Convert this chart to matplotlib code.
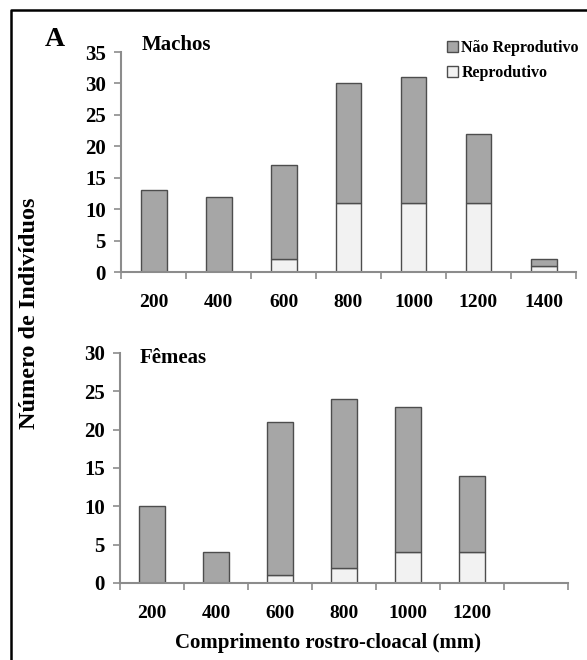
import matplotlib
matplotlib.use("Agg")
import matplotlib.pyplot as plt
from matplotlib.patches import Patch
from matplotlib.lines import Line2D

# ── Dados ────────────────────────────────────────────────────────────────
classes_machos = ["200", "400", "600", "800", "1000", "1200", "1400"]
machos_total = [13, 12, 17, 30, 31, 22, 2]
machos_repro = [0, 0, 2, 11, 11, 11, 1]

classes_femeas = ["200", "400", "600", "800", "1000", "1200", ""]
femeas_total = [10, 4, 21, 24, 23, 14, 0]
femeas_repro = [0, 0, 1, 2, 4, 4, 0]

c_nrep = "#a6a6a6"
c_rep = "#f2f2f2"
c_edge = "#4d4d4d"
c_axis = "#8c8c8c"
serif = ["Liberation Serif", "DejaVu Serif"]

plt.rcParams["font.family"] = serif
plt.rcParams["font.weight"] = "bold"

W, H = 587, 660
fig = plt.figure(figsize=(W / 100, H / 100), dpi=100)
ax1 = fig.add_axes([121 / W, 1 - 272 / H, 455 / W, 220 / H])
ax2 = fig.add_axes([120 / W, 1 - 583 / H, 448 / W, 230 / H])


def painel(ax, labels, total, repro, ymax):
    x = list(range(1, len(labels) + 1))
    nrep = [t - r for t, r in zip(total, repro)]
    ax.bar(x, repro, width=0.4, color=c_rep, edgecolor=c_edge, lw=1)
    ax.bar(x, nrep, width=0.4, bottom=repro, color=c_nrep,
           edgecolor=c_edge, lw=1)
    ax.set_xlim(0.5, len(labels) + 0.5)
    ax.set_ylim(0, ymax)
    ax.set_yticks(range(0, ymax + 1, 5))
    ax.set_xticks([i + 0.5 for i in range(0, len(labels) + 1)])
    ax.set_xticklabels([])
    ax.set_xticks(x, minor=True)
    ax.set_xticklabels(labels, minor=True)
    ax.tick_params(axis="x", which="major", direction="out", length=5,
                   color=c_axis, width=1.2)
    ax.tick_params(axis="x", which="minor", length=0, pad=16, labelsize=14)
    ax.tick_params(axis="y", direction="out", length=5, color=c_axis,
                   width=1.2, labelsize=15, pad=6)
    for s in ["top", "right"]:
        ax.spines[s].set_visible(False)
    for s in ["left", "bottom"]:
        ax.spines[s].set_color(c_axis)
        ax.spines[s].set_linewidth(1.5)
    for lab in ax.get_yticklabels() + ax.get_xticklabels(minor=True):
        lab.set_fontweight("bold")


painel(ax1, classes_machos, machos_total, machos_repro, 35)
painel(ax2, classes_femeas, femeas_total, femeas_repro, 30)

fig.text(142 / W, 1 - 45 / H, "Machos", fontsize=15, fontweight="bold",
         ha="left", va="center")
fig.text(140 / W, 1 - 358 / H, "Fêmeas", fontsize=15, fontweight="bold",
         ha="left", va="center")

handles = [Patch(facecolor=c_nrep, edgecolor=c_edge, label="Não Reprodutivo"),
           Patch(facecolor=c_rep, edgecolor=c_edge, label="Reprodutivo")]
fig.legend(handles=handles, loc="upper left",
           bbox_to_anchor=(447 / W, 1 - 40 / H), frameon=False,
           prop={"family": serif, "weight": "bold", "size": 11.5},
           handlelength=0.7, handleheight=0.7, handletextpad=0.2,
           labelspacing=0.55, borderaxespad=0, borderpad=0)

fig.text(55 / W, 1 - 39 / H, "A", fontsize=20, fontweight="bold",
         ha="center", va="center")
fig.text(30 / W, 1 - 313 / H, "Número de Indivíduos", fontsize=17.5,
         fontweight="bold", rotation=90, ha="center", va="center")
fig.text(328 / W, 1 - 643 / H, "Comprimento rostro-cloacal (mm)",
         fontsize=15, fontweight="bold", ha="center", va="center")

# moldura (só topo e esquerda visíveis no recorte)
fig.add_artist(Line2D([11 / W, 11 / W, 1.0],
                      [0.0, 1 - 10 / H, 1 - 10 / H],
                      transform=fig.transFigure, color="black", lw=1.8))

fig.savefig("out.png", dpi=100)
plt.close(fig)
